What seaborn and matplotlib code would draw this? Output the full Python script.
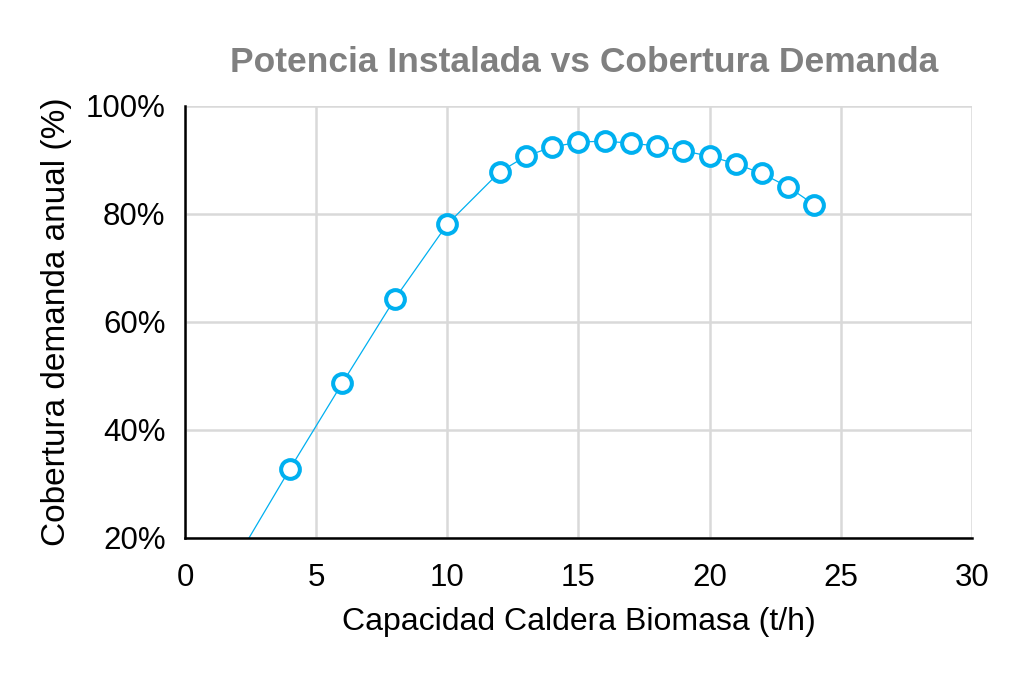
import numpy as np
import pandas as pd
import seaborn as sns
import matplotlib.pyplot as plt
from matplotlib.ticker import PercentFormatter

# Data
capacidad = [2, 4, 6, 8, 10, 12, 13, 14, 15, 16, 17, 18, 19, 20, 21, 22, 23, 24]
cobertura = [16.4, 32.8, 48.7, 64.3, 78.1, 87.8, 90.7, 92.4, 93.3, 93.5,
             93.1, 92.6, 91.7, 90.7, 89.3, 87.5, 85.0, 81.7]

df = pd.DataFrame({'capacidad': capacidad, 'cobertura': cobertura})

sns.set_theme(style='white')
plt.rcParams['font.family'] = ['Liberation Sans', 'DejaVu Sans']

fig = plt.figure(figsize=(10.24, 6.75), dpi=100)
ax = fig.add_axes([0.1807, 0.203, 0.7683, 0.64])

blue = '#00B0F0'

# thin connecting line
sns.lineplot(data=df, x='capacidad', y='cobertura', ax=ax,
             color=blue, linewidth=0.9, zorder=3)

# hollow circle markers
ax.plot(df['capacidad'][1:], df['cobertura'][1:], linestyle='none',
        marker='o', markersize=13.5, markerfacecolor='white',
        markeredgecolor=blue, markeredgewidth=2.9, zorder=4, clip_on=False)

ax.set_xlim(0, 30)
ax.set_ylim(20, 100)
ax.set_xticks(np.arange(0, 31, 5))
ax.set_yticks(np.arange(20, 101, 20))
ax.yaxis.set_major_formatter(PercentFormatter(decimals=0))

ax.grid(True, color='#D9D9D9', linewidth=1.8)
ax.set_axisbelow(True)

for side in ['top', 'right']:
    ax.spines[side].set_visible(False)
for side in ['left', 'bottom']:
    ax.spines[side].set_color('black')
    ax.spines[side].set_linewidth(1.8)
    ax.spines[side].set_zorder(5)

ax.tick_params(axis='both', labelsize=22.5, colors='black', length=0)
ax.tick_params(axis='y', pad=14)
ax.tick_params(axis='x', pad=18)

ax.set_xlabel('Capacidad Caldera Biomasa (t/h)', fontsize=23, labelpad=10,
              color='black')
ax.set_ylabel('Cobertura demanda anual (%)', fontsize=24, labelpad=10,
              color='black')

fig.suptitle('Potencia Instalada vs Cobertura Demanda', x=0.570, y=0.932,
             fontsize=25.5, fontweight='bold', color='#808080')

plt.savefig('out.png', dpi=100)
